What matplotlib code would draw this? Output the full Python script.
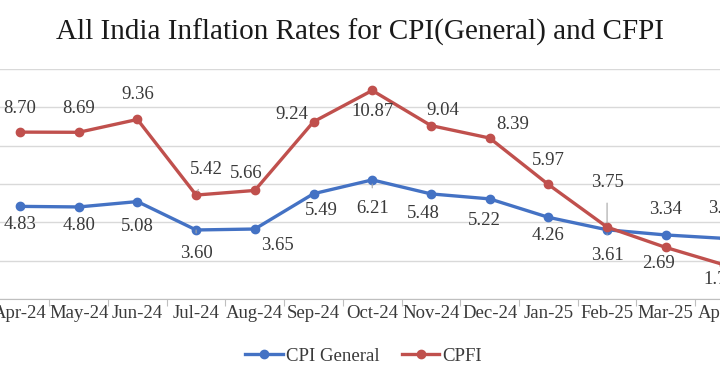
import matplotlib
matplotlib.use("Agg")
import matplotlib.pyplot as plt
import numpy as np

# data
months = ["Apr-24", "May-24", "Jun-24", "Jul-24", "Aug-24", "Sep-24", "Oct-24",
          "Nov-24", "Dec-24", "Jan-25", "Feb-25", "Mar-25", "Apr-25"]
cpi_general = [4.83, 4.80, 5.08, 3.60, 3.65, 5.49, 6.21, 5.48, 5.22, 4.26, 3.61, 3.34, 3.16]
cfpi = [8.70, 8.69, 9.36, 5.42, 5.66, 9.24, 10.87, 9.04, 8.39, 5.97, 3.75, 2.69, 1.78]

# label offsets in pixels (dx, dy; positive dy = up)
cpi_offsets = [(0, -18), (0, -19), (0, -25), (0, -24), (23, -16), (8, -17), (0, -29),
               (-8, -20), (-5, -22), (0, -18), (0, -26), (0, 25), (0, 30)]
cfpi_offsets = [(0, 24), (0, 24), (0, 25), (10, 26), (-9, 17), (-22, 7), (0, -21),
                (12, 15), (23, 14), (0, 24), (0, 45), (-7, -16), (-5, -15)]
cpi_leader = [3, 6, 10]
cfpi_leader = [3, 10]

BLUE = "#4472C4"
RED = "#C0504D"
GREY_TXT = "#3A3A3A"

plt.rcParams['font.family'] = ['Liberation Serif', 'DejaVu Serif']

fig = plt.figure(figsize=(7.2, 3.8), dpi=100)
fig.patch.set_facecolor("white")

# axes deliberately wider than the figure, like the cropped source image
ax = fig.add_axes([-0.013, 0.213, 1.06, 0.606])
x = np.arange(len(months))

ax.plot(x, cpi_general, color=BLUE, lw=2.4, marker="o", ms=6, label="CPI General", zorder=3)
ax.plot(x, cfpi, color=RED, lw=2.4, marker="o", ms=6, label="CPFI", zorder=3)

def add_labels(vals, offsets, leaders):
    for i, (v, (dx, dy)) in enumerate(zip(vals, offsets)):
        kw = {}
        if i in leaders:
            kw["arrowprops"] = dict(arrowstyle="-", color="#A6A6A6", lw=0.8,
                                    shrinkA=7, shrinkB=3)
        ax.annotate(f"{v:.2f}", (x[i], v), xytext=(dx, dy), textcoords="offset pixels",
                    ha="center", va="center", fontsize=13.5, color=GREY_TXT, **kw)

add_labels(cpi_general, cpi_offsets, cpi_leader)
add_labels(cfpi, cfpi_offsets, cfpi_leader)

ax.set_xlim(-0.5, len(months) - 0.5)
ax.set_ylim(0, 12)
ax.set_yticks(np.arange(0, 13, 2))
ax.yaxis.grid(True, color="#D9D9D9", lw=1)
ax.set_axisbelow(True)
ax.tick_params(axis="y", length=0, labelleft=False)

# category boundary ticks, labels at centres
ax.set_xticks(np.arange(-0.5, len(months), 1))
ax.set_xticklabels([])
ax.tick_params(axis="x", which="major", length=5, color="#BFBFBF", direction="out")
ax.set_xticks(x, minor=True)
ax.set_xticklabels(months, minor=True)
ax.tick_params(axis="x", which="minor", length=0, pad=4, labelsize=13.5, labelcolor=GREY_TXT)

for s in ["top", "right", "left"]:
    ax.spines[s].set_visible(False)
ax.spines["bottom"].set_color("#BFBFBF")

fig.text(0.5, 0.915, "All India Inflation Rates for CPI(General) and CFPI",
         ha="center", va="center", fontsize=21, color="#1A1A1A")

fig.legend(loc="center", bbox_to_anchor=(0.505, 0.063), ncol=2, frameon=False,
           fontsize=13.5, handlelength=2.0, columnspacing=1.2, handletextpad=0.15,
           labelcolor=GREY_TXT)

fig.savefig("out.png", dpi=100)
